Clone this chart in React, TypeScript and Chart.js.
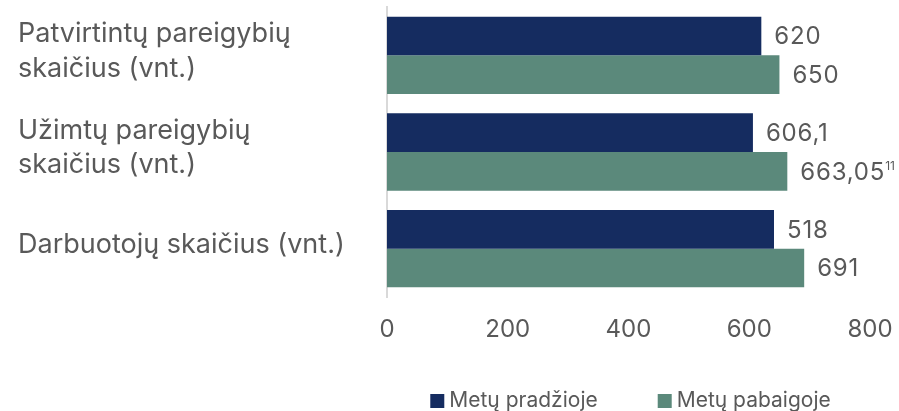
import React, { useEffect, useRef } from "react";
import { Chart, registerables } from "chart.js";

Chart.register(...registerables);

// ---- data ----
const categories: string[][] = [
  ["Patvirtintų pareigybių", "skaičius (vnt.)"],
  ["Užimtų pareigybių", "skaičius (vnt.)"],
  ["Darbuotojų skaičius (vnt.)"],
];
const seriesNames = ["Metų pradžioje", "Metų pabaigoje"];
// bar lengths as drawn in the picture (the third start bar is drawn longer than its label)
const startValues = [620, 606.1, 641];
const endValues = [650, 663.05, 691];
// printed value labels
const startLabels = ["620", "606,1", "518"];
const endLabels = ["650", "663,05", "691"];
const endNotes = ["", "11", ""];
const xMin = 0;
const xMax = 800;
const xStep = 200;

const NAVY = "#152c60";
const GREEN = "#5b897b";
const TEXT = "#595959";
const AXIS = "#d9d9d9";
const FONT = "Inter, 'DejaVu Sans', sans-serif";

const dataLabelPlugin = {
  id: "dataLabels",
  afterDatasetsDraw(chart: any) {
    const ctx = chart.ctx as CanvasRenderingContext2D;
    ctx.save();
    ctx.fillStyle = TEXT;
    ctx.textBaseline = "middle";
    ctx.textAlign = "left";
    chart.data.datasets.forEach((_ds: any, di: number) => {
      const meta = chart.getDatasetMeta(di);
      const labels = di === 0 ? startLabels : endLabels;
      const notes = di === 0 ? [] : endNotes;
      meta.data.forEach((bar: any, i: number) => {
        const x = bar.x + 13;
        const y = bar.y + 1;
        (ctx as any).letterSpacing = "0.8px";
        ctx.font = `24px ${FONT}`;
        ctx.fillText(labels[i], x, y);
        if (notes[i]) {
          const w = ctx.measureText(labels[i]).width;
          (ctx as any).letterSpacing = "0px";
          ctx.font = `12px ${FONT}`;
          ctx.fillText(notes[i], x + w, y - 6);
        }
      });
    });
    ctx.restore();
  },
};

const legendPlugin = {
  id: "customLegend",
  afterDraw(chart: any) {
    const ctx = chart.ctx as CanvasRenderingContext2D;
    const area = chart.chartArea;
    ctx.save();
    ctx.font = `21px ${FONT}`;
    ctx.textBaseline = "middle";
    ctx.textAlign = "left";
    const box = 14;
    const gapBoxText = 5;
    const gapItems = 60;
    const widths = seriesNames.map((n) => box + gapBoxText + ctx.measureText(n).width);
    const total = widths.reduce((a, b) => a + b, 0) + gapItems * (widths.length - 1);
    let x = (area.left + area.right) / 2 + 2 - total / 2;
    const cy = 400;
    chart.data.datasets.forEach((ds: any, i: number) => {
      ctx.fillStyle = ds.backgroundColor;
      ctx.fillRect(x, cy - 6, box, box);
      ctx.fillStyle = TEXT;
      ctx.fillText(seriesNames[i], x + box + gapBoxText, cy + 1);
      x += widths[i] + gapItems;
    });
    ctx.restore();
  },
};

export default function App() {
  const ref = useRef<HTMLCanvasElement | null>(null);
  useEffect(() => {
    if (!ref.current) return;
    const chart = new Chart(ref.current, {
      type: "bar",
      data: {
        labels: categories,
        datasets: [
          {
            label: seriesNames[0],
            data: startValues,
            backgroundColor: NAVY,
            categoryPercentage: 0.8,
            barPercentage: 1.0,
          },
          {
            label: seriesNames[1],
            data: endValues,
            backgroundColor: GREEN,
            categoryPercentage: 0.8,
            barPercentage: 1.0,
          },
        ],
      },
      options: {
        indexAxis: "y",
        animation: false,
        responsive: true,
        maintainAspectRatio: false,
        layout: { padding: { top: 7, left: 18, right: 29, bottom: 54 } },
        plugins: {
          legend: { display: false },
          tooltip: { enabled: false },
        },
        scales: {
          x: {
            min: xMin,
            max: xMax,
            grid: { display: false, drawTicks: false },
            border: { display: false },
            ticks: {
              stepSize: xStep,
              padding: 18,
              color: TEXT,
              font: { family: FONT, size: 24 },
            },
            afterFit(scale: any) {
              scale.height = 60;
              scale.paddingLeft = 0;
              scale.paddingRight = 0;
            },
          },
          y: {
            grid: { display: false, drawTicks: false },
            border: { display: true, color: AXIS, width: 2 },
            ticks: {
              crossAlign: "far",
              labelOffset: -4,
              color: TEXT,
              font: { family: FONT, size: 27, lineHeight: 1.28 },
            },
            afterFit(scale: any) {
              scale.width = 369;
              scale.paddingTop = 0;
              scale.paddingBottom = 0;
            },
          },
        },
      },
      plugins: [dataLabelPlugin, legendPlugin],
    });
    return () => chart.destroy();
  }, []);
  return (
    <div style={{ position: "fixed", left: 0, top: 0, width: 899, height: 411, background: "#fff" }}>
      <canvas ref={ref} />
    </div>
  );
}
